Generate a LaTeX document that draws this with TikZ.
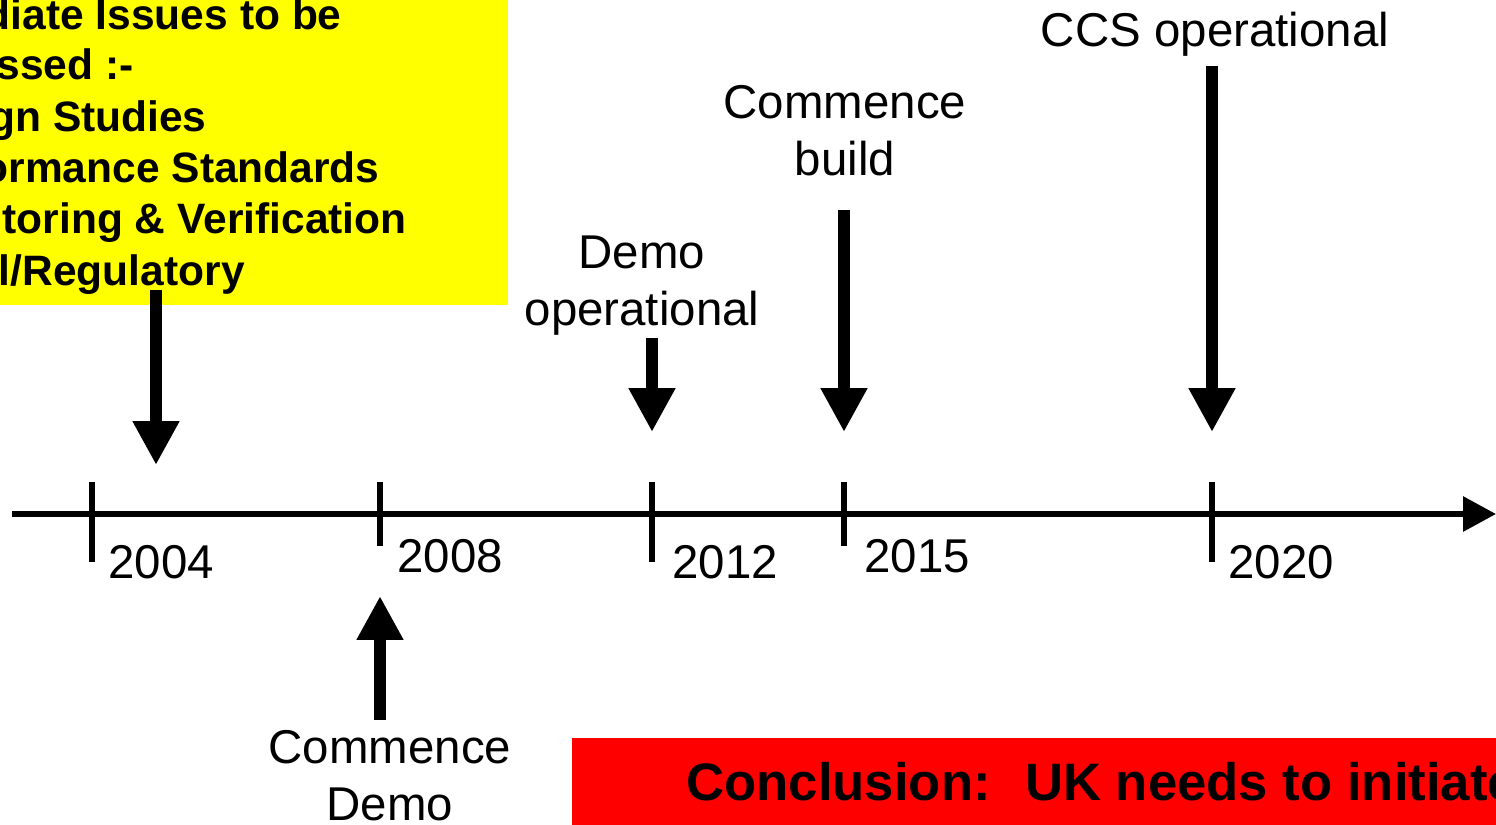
\documentclass[tikz,border=0pt]{standalone}
\usepackage{fontspec}
\setmainfont{Liberation Sans}
\usetikzlibrary{arrows.meta}
\definecolor{boxyellow}{RGB}{255,255,0}
\definecolor{boxred}{RGB}{255,0,0}
\begin{document}
\begin{tikzpicture}[x=0.02cm,y=-0.02cm,
	bigarrow/.style={line width=6.8pt,-{Triangle[length=25pt,width=25pt]}},
	ticker/.style={line width=3.4pt},
	lbl/.style={inner sep=0,anchor=base,align=center,font=\fontsize{27}{32.3}\selectfont},
	year/.style={inner sep=0,anchor=base west,font=\fontsize{27}{32.3}\selectfont},
	issue/.style={inner sep=0,anchor=base east,font=\fontsize{24.2}{29}\selectfont\bfseries}]
	\useasboundingbox (0,0) rectangle (1496,824);
	\clip (0,0) rectangle (1496,824);
	
	%issues box
	\fill[boxyellow] (-60,-60) rectangle (508,305);
	\node[issue] (issA) at (342,30) {diate Issues to be};
	\node[issue] (issB) at (134,80) {ssed :-};
	\node[issue] (issC) at (207,132) {gn Studies};
	\node[issue] (issD) at (380,183) {ormance Standards};
	\node[issue] (issE) at (407,234) {toring \& Verification};
	\node[issue] (issF) at (245,285) {l/Regulatory};
	
	%conclusion box
	\fill[boxred] (572,738) rectangle (1560,900);
	\node[inner sep=0,anchor=base west,font=\fontsize{30}{36}\selectfont\bfseries] (concl) at (686,800) {Conclusion: \ UK needs to initiate};
	
	%time axis
	\coordinate (axstart) at (12,514);
	\coordinate (axend) at (1496,514);
	\draw[line width=3.4pt,-{Triangle[length=18.7pt,width=19.3pt]}] (axstart) -- (axend);
	
	%ticks
	\draw[ticker] (92,482) -- (92,562);
	\draw[ticker] (380,482) -- (380,546);
	\draw[ticker] (652,482) -- (652,562);
	\draw[ticker] (844,482) -- (844,546);
	\draw[ticker] (1212,482) -- (1212,562);
	
	%years
	\node[year] (y2004) at (108,578) {2004};
	\node[year] (y2008) at (397,572) {2008};
	\node[year] (y2012) at (672,578) {2012};
	\node[year] (y2015) at (864,572) {2015};
	\node[year] (y2020) at (1228,578) {2020};
	
	%milestones (base = last line)
	\node[lbl] (ccs) at (1215,47) {CCS operational};
	\node[lbl] (build) at (845,175) {Commence\\build};
	\node[lbl] (demoop) at (642,325) {Demo\\operational};
	\node[lbl] (demo) at (390,820) {Commence\\Demo};
	
	\coordinate (issfoot) at (156,290);
	\coordinate (ccsfoot) at (1212,66);
	\coordinate (buildfoot) at (844,210);
	\coordinate (demoopfoot) at (652,338);
	\coordinate (demohead) at (380,720);
	\coordinate (p2004) at (156,465);
	\coordinate (p2008) at (380,596);
	\coordinate (p2012) at (652,432);
	\coordinate (p2015) at (844,432);
	\coordinate (p2020) at (1212,432);
	
	\draw[bigarrow] (issfoot) -- (p2004);
	\draw[bigarrow] (demoopfoot) -- (p2012);
	\draw[bigarrow] (buildfoot) -- (p2015);
	\draw[bigarrow] (ccsfoot) -- (p2020);
	\draw[bigarrow] (demohead) -- (p2008);
\end{tikzpicture}
\end{document}
